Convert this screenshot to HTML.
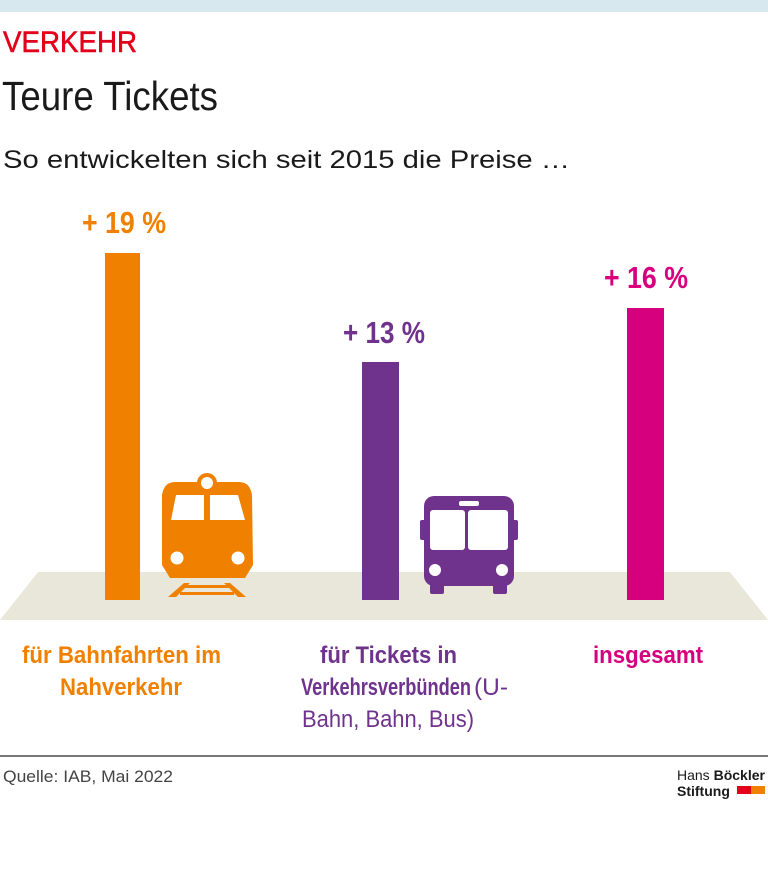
<!DOCTYPE html>
<html><head><meta charset="utf-8"><style>html,body{margin:0;padding:0;background:#fff}svg{display:block}</style></head>
<body>
<svg width="768" height="896" viewBox="0 0 768 896" xmlns="http://www.w3.org/2000/svg" font-family="Liberation Sans, sans-serif">
<rect x="0" y="0" width="768" height="12" fill="#d7e9ee"/>
<text x="3" y="52" font-size="30" fill="#e3001b" textLength="134" lengthAdjust="spacingAndGlyphs" stroke="#e3001b" stroke-width="0.6">VERKEHR</text>
<text x="2" y="110" font-size="41" fill="#1a1a1a" textLength="216" lengthAdjust="spacingAndGlyphs">Teure Tickets</text>
<text x="3" y="168" font-size="25" fill="#1a1a1a" textLength="567" lengthAdjust="spacingAndGlyphs">So entwickelten sich seit 2015 die Preise …</text>
<polygon points="38,572 730,572 768,620 0,620" fill="#e9e7da"/>
<rect x="105" y="253" width="35" height="347" fill="#f08000"/>
<rect x="362" y="362" width="37" height="238" fill="#6f338d"/>
<rect x="627" y="308" width="37" height="292" fill="#d6007e"/>
<g font-size="31" font-weight="bold">
<text x="82" y="233" fill="#f08000" textLength="84" lengthAdjust="spacingAndGlyphs">+ 19 %</text>
<text x="343" y="343" fill="#6f338d" textLength="82" lengthAdjust="spacingAndGlyphs">+ 13 %</text>
<text x="604" y="288" fill="#d6007e" textLength="84" lengthAdjust="spacingAndGlyphs">+ 16 %</text>
</g>
<!-- train -->
<g fill="#f08000">
<circle cx="207" cy="483" r="10"/>
<path d="M175,482 L239,482 Q250,482 252,495 L253,565 L245,578 L170,578 L162,565 L162,495 Q164,482 175,482 Z"/>
<polygon points="168,597 184,583 190,583 176,597"/>
<polygon points="246,597 238,597 224,583 230,583"/>
<rect x="184" y="585" width="46" height="3"/>
<rect x="180" y="592" width="54" height="3"/>
</g>
<circle cx="207" cy="483" r="6" fill="#fff"/>
<path d="M171,520 L176,495 L204,495 L204,520 Z" fill="#fff"/>
<path d="M210,495 L238,495 L245,520 L210,520 Z" fill="#fff"/>
<circle cx="177" cy="558" r="6.5" fill="#fff"/>
<circle cx="238" cy="558" r="6.5" fill="#fff"/>
<!-- bus -->
<g fill="#6f338d">
<rect x="424" y="496" width="90" height="90" rx="10"/>
<rect x="420" y="520" width="6" height="20" rx="2"/>
<rect x="512" y="520" width="6" height="20" rx="2"/>
<rect x="430" y="584" width="14" height="10" rx="2"/>
<rect x="493" y="584" width="14" height="10" rx="2"/>
</g>
<rect x="459" y="501" width="20" height="5" rx="2" fill="#fff"/>
<rect x="430" y="510" width="35" height="40" rx="3" fill="#fff"/>
<rect x="468" y="510" width="40" height="40" rx="3" fill="#fff"/>
<circle cx="435" cy="570" r="6" fill="#fff"/>
<circle cx="502" cy="570" r="6" fill="#fff"/>
<g font-size="24" font-weight="bold">
<text x="22" y="663" fill="#f08000" textLength="199" lengthAdjust="spacingAndGlyphs">für Bahnfahrten im</text>
<text x="60" y="695" fill="#f08000" textLength="122" lengthAdjust="spacingAndGlyphs">Nahverkehr</text>
<text x="320" y="663" fill="#6f338d" textLength="137" lengthAdjust="spacingAndGlyphs">für Tickets in</text>
<text x="301" y="695" fill="#6f338d" textLength="170" lengthAdjust="spacingAndGlyphs">Verkehrsverbünden</text>
<text x="593" y="663" fill="#d6007e" textLength="110" lengthAdjust="spacingAndGlyphs">insgesamt</text>
</g>
<text x="474" y="695" font-size="24" fill="#6f338d" textLength="34" lengthAdjust="spacingAndGlyphs">(U-</text>
<text x="302" y="727" font-size="24" fill="#6f338d" textLength="172" lengthAdjust="spacingAndGlyphs">Bahn, Bahn, Bus)</text>
<rect x="0" y="755" width="768" height="2" fill="#777"/>
<text x="3" y="782" font-size="17" fill="#444" textLength="170" lengthAdjust="spacingAndGlyphs">Quelle: IAB, Mai 2022</text>
<text x="677" y="780" font-size="14" fill="#1a1a1a">Hans <tspan font-weight="bold">Böckler</tspan></text>
<text x="677" y="796" font-size="14" font-weight="bold" fill="#1a1a1a">Stiftung</text>
<rect x="737" y="786" width="14" height="8" fill="#e3001b"/>
<rect x="751" y="786" width="14" height="8" fill="#f08000"/>
</svg>
</body></html>
